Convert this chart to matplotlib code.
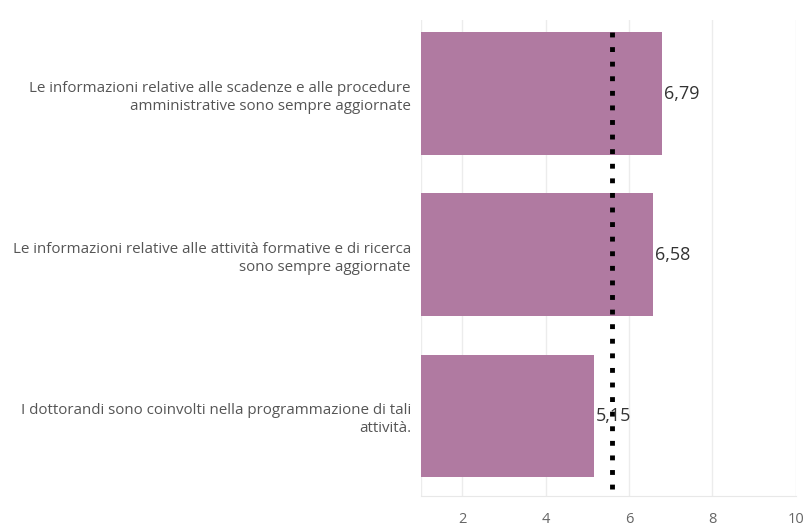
import matplotlib.pyplot as plt

# data
labels = ["Le informazioni relative alle scadenze e alle procedure\namministrative sono sempre aggiornate",
          "Le informazioni relative alle attività formative e di ricerca\nsono sempre aggiornate",
          "I dottorandi sono coinvolti nella programmazione di tali\nattività."]
values = [6.79, 6.58, 5.15]
ref_line = 5.6
xticks = [2, 4, 6, 8, 10]

plt.rcParams['font.family'] = ['Open Sans', 'DejaVu Sans']

fig = plt.figure(figsize=(8.05, 5.28), dpi=100)
ax = fig.add_axes([0.5225, 0.06, 0.466, 0.903])

pos = list(range(len(values)))
ax.barh(pos, [v - 1 for v in values], left=1, height=0.76, color='#b07aa1', zorder=2)
for p, v in zip(pos, values):
    ax.text(v + 0.05, p, f"{v:.2f}".replace('.', ','), va='center', ha='left',
            fontsize=13, color='#333333', zorder=4)

# reference line (dotted)
ax.axvline(ref_line, ymin=0.015, ymax=0.99, color='black',
           linestyle=(0, (1, 2.0)), linewidth=3.5, zorder=3)

ax.set_xlim(1, 10)
ax.set_ylim(2.5, -0.46)
ax.set_xticks(xticks)
ax.set_xticklabels([str(t) for t in xticks], fontsize=10.5, color='#666666')
ax.set_yticks(pos)
ax.set_yticklabels(labels, fontsize=10.9, color='#555555', ha='right',
                   multialignment='right', linespacing=1.3)
ax.tick_params(axis='x', length=0, pad=11)
ax.tick_params(axis='y', length=0, pad=7)
ax.grid(axis='x', color='#ececec', linewidth=1, zorder=0)
for s in ['top', 'right', 'left']:
    ax.spines[s].set_visible(False)
ax.spines['bottom'].set_color('#e8e8e8')
ax.axvline(1, color='#ececec', linewidth=1, zorder=0)

fig.savefig('out.png', dpi=100)
